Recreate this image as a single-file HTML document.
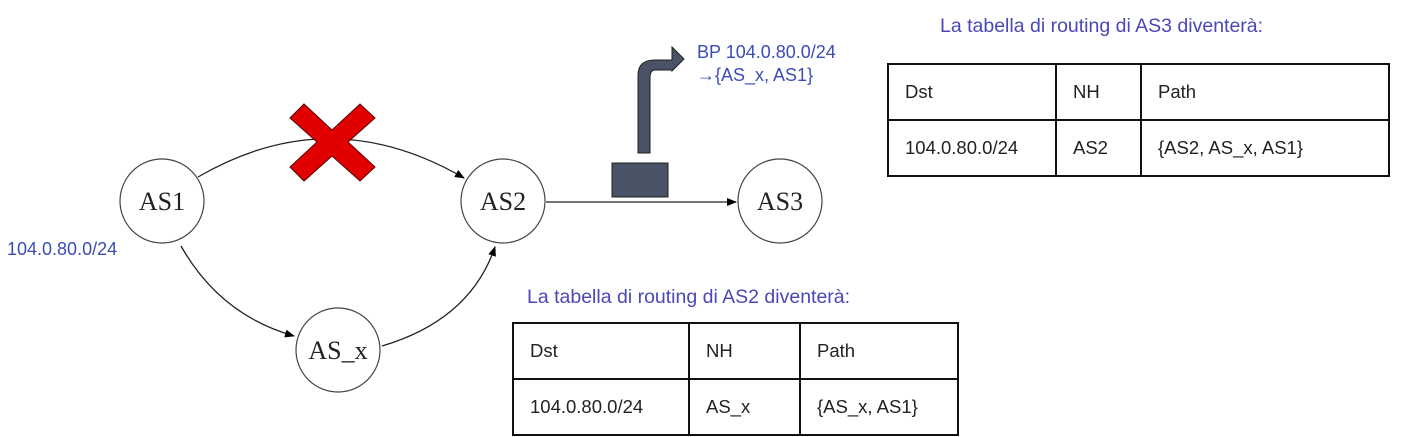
<!DOCTYPE html>
<html><head><meta charset="utf-8"><style>
body{margin:0;width:1406px;height:437px;background:#fff;position:relative;overflow:hidden;font-family:"Liberation Sans",sans-serif}
.t{position:absolute;font-size:18px;color:#4a48b8;white-space:nowrap}
table{position:absolute;border-collapse:collapse;font-size:18.5px;color:#222;table-layout:fixed}
td{border:2px solid #111;padding:0 0 0 16px;height:54px;white-space:nowrap}
</style></head><body>
<svg width="1406" height="437" style="position:absolute;left:0;top:0">
<defs><marker id="a" markerWidth="10" markerHeight="8" refX="9" refY="4" orient="auto" markerUnits="userSpaceOnUse"><path d="M0,0L10,4L0,8z" fill="#000"/></marker></defs>
<g fill="none" stroke="#222" stroke-width="1.3">
<path d="M198,177 Q330,100 464,178" marker-end="url(#a)"/>
<path d="M181,246 Q220,315 294,336" marker-end="url(#a)"/>
<path d="M382,346 Q470,320 495,247" marker-end="url(#a)"/>
<path d="M546,202 L736,202" marker-end="url(#a)"/>
</g>
<g fill="#fff" stroke="#444" stroke-width="1.2">
<circle cx="162" cy="201" r="42"/><circle cx="503" cy="201" r="42"/><circle cx="780" cy="201" r="42"/><circle cx="338" cy="350" r="42"/>
</g>
<g font-family="Liberation Serif,serif" font-size="26" text-anchor="middle" fill="#222">
<text x="162" y="210">AS1</text><text x="503" y="210">AS2</text><text x="780" y="210">AS3</text><text x="338" y="359">AS_x</text>
</g>
<path d="M290,118 L304,104 L332,130 L360,104 L375,118 L348,142 L375,167 L360,181 L332,156 L304,181 L290,167 L317,142 Z" fill="#e00000" stroke="#5a0000" stroke-width="1"/>
<rect x="612" y="163" width="56" height="34" fill="#4a5365" stroke="#222"/>
<path d="M638,153 L638,75 Q638,60 655,60 L672,60 L672,47 L684,59 L672,71 L672,70 L655,70 Q650,70 650,78 L650,153 Z" fill="#4a5365" stroke="#222" stroke-width="1"/>
</svg>
<div class="t" style="left:697px;top:41px;line-height:23px;color:#3b4cb5">BP 104.0.80.0/24<br>→{AS_x, AS1}</div>
<div class="t" style="left:7px;top:239px;color:#3b4cb5">104.0.80.0/24</div>
<div class="t" style="left:940px;top:15px;font-size:19.5px">La tabella di routing di AS3 diventerà:</div>
<div class="t" style="left:527px;top:286px;font-size:19.5px">La tabella di routing di AS2 diventerà:</div>
<table style="left:887px;top:63px;width:503px"><colgroup><col style="width:168px"><col style="width:85px"><col></colgroup><tr><td>Dst</td><td>NH</td><td>Path</td></tr><tr><td>104.0.80.0/24</td><td>AS2</td><td>{AS2, AS_x, AS1}</td></tr></table>
<table style="left:512px;top:322px;width:447px"><colgroup><col style="width:176px"><col style="width:111px"><col></colgroup><tr><td>Dst</td><td>NH</td><td>Path</td></tr><tr><td>104.0.80.0/24</td><td>AS_x</td><td>{AS_x, AS1}</td></tr></table>
</body></html>
